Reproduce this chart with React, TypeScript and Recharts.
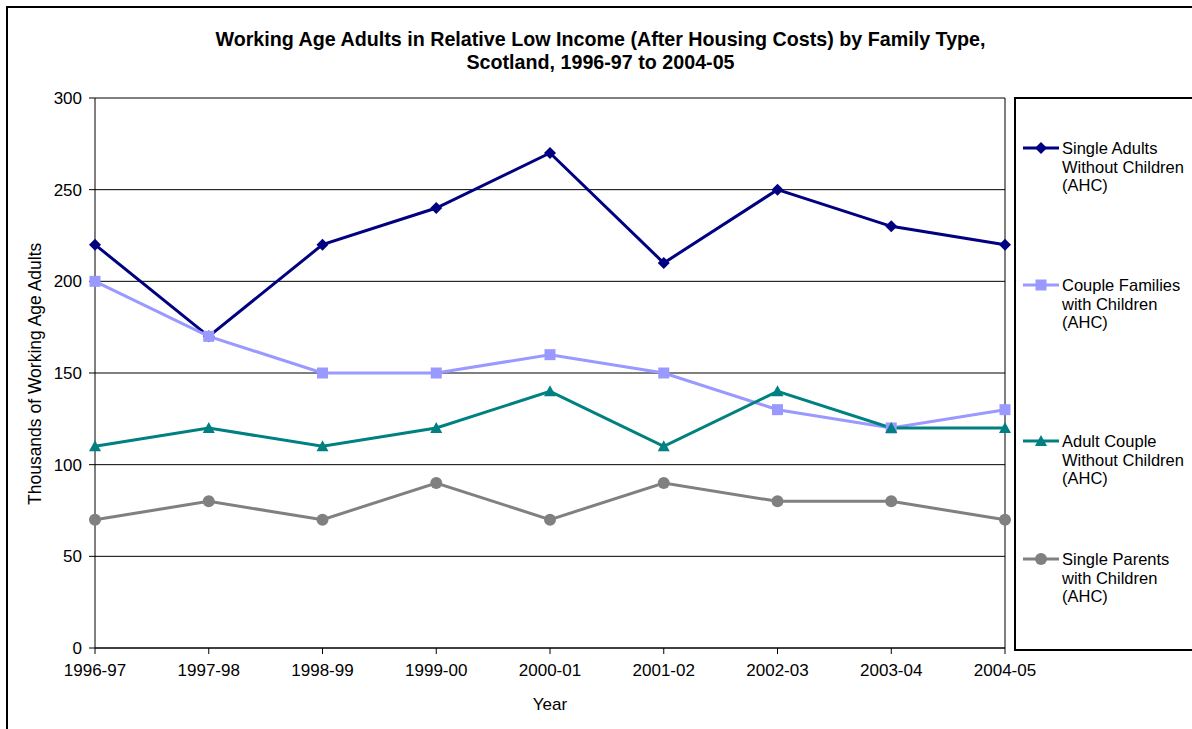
import React from "react";
import {
  LineChart,
  Line,
  XAxis,
  YAxis,
  CartesianGrid,
  ReferenceLine,
} from "recharts";

const years = [
  "1996-97",
  "1997-98",
  "1998-99",
  "1999-00",
  "2000-01",
  "2001-02",
  "2002-03",
  "2003-04",
  "2004-05",
];
const singleAdults = [220, 170, 220, 240, 270, 210, 250, 230, 220];
const coupleFamilies = [200, 170, 150, 150, 160, 150, 130, 120, 130];
const adultCouple = [110, 120, 110, 120, 140, 110, 140, 120, 120];
const singleParents = [70, 80, 70, 90, 70, 90, 80, 80, 70];
const yTicks = [0, 50, 100, 150, 200, 250, 300];

const data = years.map((year, i) => ({
  year,
  singleAdults: singleAdults[i],
  coupleFamilies: coupleFamilies[i],
  adultCouple: adultCouple[i],
  singleParents: singleParents[i],
}));

const FONT = "'Liberation Sans', Arial, sans-serif";

type Shape = "diamond" | "square" | "triangle" | "circle";

const series: { key: string; color: string; shape: Shape; label: string[] }[] = [
  {
    key: "singleAdults",
    color: "#000080",
    shape: "diamond",
    label: ["Single Adults", "Without Children", "(AHC)"],
  },
  {
    key: "coupleFamilies",
    color: "#9999FF",
    shape: "square",
    label: ["Couple Families", "with Children", "(AHC)"],
  },
  {
    key: "adultCouple",
    color: "#008080",
    shape: "triangle",
    label: ["Adult Couple", "Without Children", "(AHC)"],
  },
  {
    key: "singleParents",
    color: "#808080",
    shape: "circle",
    label: ["Single Parents", "with Children", "(AHC)"],
  },
];

function marker(shape: Shape, cx: number, cy: number, color: string, key?: any) {
  if (shape === "diamond")
    return (
      <polygon
        key={key}
        points={`${cx},${cy - 6} ${cx + 6},${cy} ${cx},${cy + 6} ${cx - 6},${cy}`}
        fill={color}
      />
    );
  if (shape === "square")
    return <rect key={key} x={cx - 5.5} y={cy - 5.5} width={11} height={11} fill={color} />;
  if (shape === "triangle")
    return (
      <polygon
        key={key}
        points={`${cx},${cy - 6} ${cx + 6},${cy + 5} ${cx - 6},${cy + 5}`}
        fill={color}
      />
    );
  return <circle key={key} cx={cx} cy={cy} r={6} fill={color} />;
}

const legendTops = [139, 276, 432, 550];

export default function App() {
  return (
    <div
      style={{
        position: "absolute",
        left: 0,
        top: 0,
        width: 1192,
        height: 729,
        background: "#fff",
        fontFamily: FONT,
        overflow: "hidden",
      }}
    >
      {/* outer frame */}
      <div
        style={{
          position: "absolute",
          left: 6,
          top: 6,
          width: 1200,
          height: 800,
          border: "2px solid #000",
        }}
      />
      <div
        style={{
          position: "absolute",
          left: 0,
          top: 28,
          width: 1201,
          textAlign: "center",
          fontWeight: "bold",
          fontSize: 19.7,
          lineHeight: "22.5px",
          color: "#000",
        }}
      >
        Working Age Adults in Relative Low Income (After Housing Costs) by Family Type,
        <br />
        Scotland, 1996-97 to 2004-05
      </div>

      <div style={{ position: "absolute", left: 0, top: 0 }}>
        <LineChart
          width={1192}
          height={729}
          data={data}
          margin={{ top: 98, right: 187, bottom: 51, left: 35 }}
        >
          <CartesianGrid vertical={false} stroke="#000" strokeWidth={1} />
          <ReferenceLine x="2004-05" stroke="#000" strokeWidth={1} />
          <XAxis
            dataKey="year"
            stroke="#000"
            tickLine={{ stroke: "#000" }}
            tickSize={6}
            tick={{ fill: "#000", fontSize: 17, fontFamily: FONT, dy: 8 }}
            interval={0}
            label={{
              value: "Year",
              position: "bottom",
              offset: 20,
              style: { fill: "#000", fontSize: 17, fontFamily: FONT },
            }}
          />
          <YAxis
            width={60}
            domain={[0, 300]}
            ticks={yTicks}
            stroke="#000"
            tickLine={{ stroke: "#000" }}
            tickSize={6}
            tickMargin={7}
            tick={{ fill: "#000", fontSize: 17, fontFamily: FONT }}
            label={{
              value: "Thousands of Working Age Adults",
              angle: -90,
              position: "insideLeft",
              dx: -5,
              dy: 132,
              style: { fill: "#000", fontSize: 17.5, fontFamily: FONT },
            }}
          />
          {series.map((s) => (
            <Line
              key={s.key}
              dataKey={s.key}
              type="linear"
              stroke={s.color}
              strokeWidth={3}
              isAnimationActive={false}
              dot={(p: any) => marker(s.shape, p.cx, p.cy, s.color, p.index)}
              activeDot={false}
            />
          ))}
        </LineChart>
      </div>

      {/* legend */}
      <div
        style={{
          position: "absolute",
          left: 1014,
          top: 97,
          width: 200,
          height: 550,
          border: "2px solid #000",
        }}
      />
      {series.map((s, i) => (
        <div
          key={s.key}
          style={{ position: "absolute", left: 1022, top: legendTops[i], display: "flex" }}
        >
          <svg width={38} height={18} style={{ flex: "none" }}>
            <line x1={1} y1={9} x2={37} y2={9} stroke={s.color} strokeWidth={3} />
            {marker(s.shape, 19, 9, s.color)}
          </svg>
          <div style={{ fontSize: 16.5, lineHeight: "18.5px", color: "#000", marginLeft: 2 }}>
            {s.label.map((l) => (
              <div key={l}>{l}</div>
            ))}
          </div>
        </div>
      ))}
    </div>
  );
}
